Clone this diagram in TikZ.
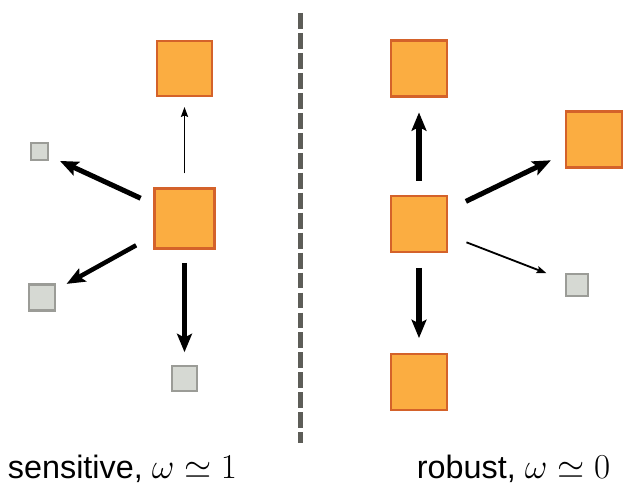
\documentclass[tikz,border=0pt]{standalone}
\usepackage{fontspec}
\setmainfont{Liberation Sans}
\usetikzlibrary{arrows.meta}

\definecolor{boxfill}{HTML}{FBAD41}
\definecolor{boxline}{HTML}{D4622A}
\definecolor{dotfill}{HTML}{D6D9D3}
\definecolor{dotline}{HTML}{9B9C97}
\definecolor{divider}{HTML}{5D5D58}

\tikzset{
    state/.style={draw=boxline, fill=boxfill, line width=1.6pt, inner sep=0pt, minimum size=#1},
    state/.default=1.4cm,
    lost/.style={draw=dotline, fill=dotfill, line width=1.6pt, inner sep=0pt, minimum size=#1},
    strong/.style={line width=3.6pt, -{Stealth[length=13pt, width=10.5pt, inset=2.5pt]}},
    weak/.style={line width=1.3pt, -{Stealth[length=7pt, width=5pt, inset=1pt]}}
}

\begin{document}
\begin{tikzpicture}[x=0.025cm, y=-0.025cm]
        \useasboundingbox (0, 0) rectangle (623, 486);

        % sensitive
        \node[state=1.5cm] (center) at (184.5, 218.5) {};
        \node[state=1.375cm] (up) at (184.5, 68.5) {};
        \node[lost=0.425cm] (upleft) at (39.5, 151.5) {};
        \node[lost=0.65cm] (downleft) at (42, 297.5) {};
        \node[lost=0.625cm] (down) at (184.5, 378.5) {};

        \begin{scope}[black]
            \draw[weak, shorten <=10pt, shorten >=7pt] (center) -- (up);
            \draw[strong, shorten <=10pt, shorten >=8.5pt] (center) -- (upleft);
            \draw[strong, line width=3.2pt, shorten <=14pt, shorten >=8.5pt] (center) -- (downleft);
            \draw[strong, shorten <=9.5pt, shorten >=9pt] (center) -- (down);
        \end{scope}

        % robust
        \node[state] (rcenter) at (419, 224) {};
        \node[state] (rup) at (419, 68.5) {};
        \node[state] (rdown) at (419, 382) {};
        \node[state] (rright) at (594, 139.5) {};
        \node[lost=0.55cm] (rlost) at (577, 285) {};

        \begin{scope}[black]
            \draw[strong, shorten <=10pt, shorten >=10.5pt] (rcenter) -- (rup);
            \draw[strong, shorten <=10.5pt, shorten >=10.5pt] (rcenter) -- (rdown);
            \draw[strong, shorten <=14pt, shorten >=11pt] (rcenter) -- (rright);
            \draw[weak, shorten <=14pt, shorten >=14pt] (rcenter) -- (rlost);
        \end{scope}

        \coordinate (top) at (300.5, 13);
        \coordinate (bottom) at (300.5, 443);
        \draw[divider, line width=3pt, dash pattern=on 11.3pt off 2.9pt] (top) -- (bottom);

        \node[anchor=base, font=\fontsize{23}{27}\selectfont] (sens) at (122.5, 478) {sensitive, $\omega \simeq 1$};
        \node[anchor=base, font=\fontsize{23}{27}\selectfont] (rob) at (513.5, 478) {robust, $\omega \simeq 0$};
    \end{tikzpicture}
\end{document}
